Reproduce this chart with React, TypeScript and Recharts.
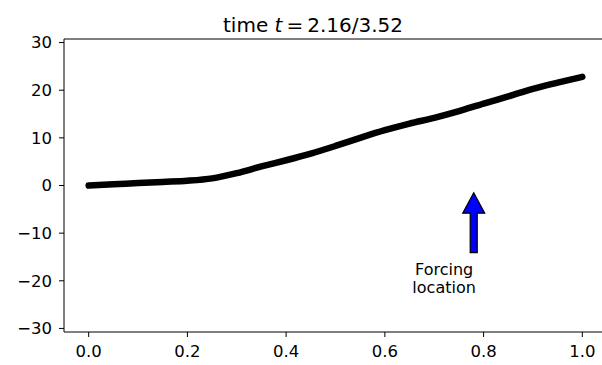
import React from "react";
import { LineChart, Line, XAxis, YAxis, ReferenceLine, ReferenceDot } from "recharts";

const xValues = [0, 0.05, 0.1, 0.15, 0.2, 0.25, 0.3, 0.35, 0.4, 0.45, 0.5, 0.55, 0.6, 0.65, 0.7, 0.75, 0.8, 0.85, 0.9, 0.95, 1.0];
const yValues = [0, 0.25, 0.5, 0.75, 1.0, 1.5, 2.6, 4.0, 5.3, 6.7, 8.3, 10.0, 11.6, 13.0, 14.2, 15.6, 17.2, 18.7, 20.3, 21.6, 22.8];
const xTicks = [0, 0.2, 0.4, 0.6, 0.8, 1.0];
const yTicks = [-30, -20, -10, 0, 10, 20, 30];
const xDomain = [-0.05, 1.05];
const yDomain = [-30.75, 30.75];
const arrowX = 0.78;
const arrowBottom = -14.1;
const arrowTip = -1.5;
const labelX = 0.72;
const labelY = -20;
const labelLines = ["Forcing", "location"];
const titleTime = "2.16";
const titleTotal = "3.52";

const data = xValues.map((x, i) => ({ x, y: yValues[i] }));

const FONT = "DejaVu Sans";
const TICK_FS = 16.5;

const Arrow = (props: any) => {
  const { x1, y1, y2 } = props;
  const x = x1;
  const sw = 3.5;
  const hw = 11;
  const hl = 20.5;
  const pts = [
    [x - sw, y1],
    [x - sw, y2 + hl],
    [x - hw, y2 + hl],
    [x, y2],
    [x + hw, y2 + hl],
    [x + sw, y2 + hl],
    [x + sw, y1],
  ]
    .map((p) => p.join(","))
    .join(" ");
  return <polygon points={pts} fill="#0000ff" stroke="#000" strokeWidth={1.2} strokeLinejoin="miter" />;
};

const LabelText = (props: any) => {
  const { cx, cy } = props;
  return (
    <g>
      <text x={cx} y={cy - 6} textAnchor="middle" fontFamily={FONT} fontSize={16} fill="#000">
        {labelLines[0]}
      </text>
      <text x={cx} y={cy + 12} textAnchor="middle" fontFamily={FONT} fontSize={16} fill="#000">
        {labelLines[1]}
      </text>
    </g>
  );
};

const fmtY = (v: number) => (v < 0 ? "\u2212" + Math.abs(v) : String(v));
const fmtX = (v: number) => v.toFixed(1);

export default function App() {
  return (
    <div style={{ position: "absolute", left: 0, top: 0, width: 602, height: 365, overflow: "hidden", background: "#fff", fontFamily: FONT }}>
      <LineChart width={610} height={365} data={data} margin={{ top: 39, right: 3, bottom: 0, left: 0 }}>
        <XAxis
          dataKey="x"
          type="number"
          domain={xDomain}
          ticks={xTicks}
          allowDataOverflow
          tickFormatter={fmtX}
          height={33}
          tickSize={5}
          tickMargin={8}
          stroke="#000"
          tick={{ fill: "#000", fontSize: TICK_FS, fontFamily: FONT }}
          axisLine={{ stroke: "#000", strokeWidth: 1 }}
          tickLine={{ stroke: "#000", strokeWidth: 1 }}
        />
        <YAxis
          type="number"
          domain={yDomain}
          ticks={yTicks}
          allowDataOverflow
          tickFormatter={fmtY}
          width={64}
          tickSize={5}
          tickMargin={7}
          stroke="#000"
          tick={{ fill: "#000", fontSize: TICK_FS, fontFamily: FONT }}
          axisLine={{ stroke: "#000", strokeWidth: 1 }}
          tickLine={{ stroke: "#000", strokeWidth: 1 }}
        />
        <ReferenceLine y={yDomain[1]} stroke="#000" strokeWidth={1} ifOverflow="visible" />
        <ReferenceLine x={xDomain[1]} stroke="#000" strokeWidth={1} ifOverflow="visible" />
        <Line
          type="monotone"
          dataKey="y"
          stroke="#000"
          strokeWidth={6.5}
          strokeLinecap="round"
          strokeLinejoin="round"
          dot={false}
          isAnimationActive={false}
        />
        <ReferenceLine
          segment={[{ x: arrowX, y: arrowBottom }, { x: arrowX, y: arrowTip }]}
          ifOverflow="visible"
          shape={Arrow}
        />
        <ReferenceDot x={labelX} y={labelY} r={0} ifOverflow="visible" shape={LabelText} />
      </LineChart>
      <svg width={602} height={40} style={{ position: "absolute", left: 0, top: 0 }}>
        <text x={313} y={32} textAnchor="middle" fontFamily={FONT} fontSize={20} fill="#000">
          <tspan>time </tspan>
          <tspan fontStyle="italic">t</tspan>
          <tspan>{"\u2009=\u2009"}</tspan>
          <tspan>{titleTime}/{titleTotal}</tspan>
        </text>
      </svg>
    </div>
  );
}
